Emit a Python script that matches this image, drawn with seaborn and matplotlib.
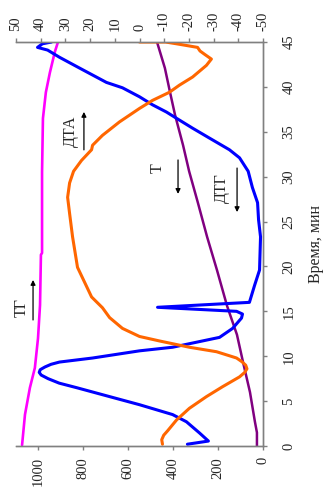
import numpy as np
import pandas as pd
import matplotlib
matplotlib.use('Agg')
import matplotlib.pyplot as plt
import seaborn as sns

# ---- data (time in minutes) ----
# TG (mass) and T (temperature) on the 0-1000 scale
t_tg = [0.1, 3.5, 6.5, 8.7, 12.0, 15.7, 21.3, 21.5, 30.5, 36.5, 39.4, 41.6, 43.9, 45.0]
tg = [1073, 1060, 1038, 1016, 1002, 993, 989, 984, 984, 980, 967, 949, 927, 913]

t_temp = [0.0, 1.5, 2.7, 6.0, 9.35, 12.4, 15.6, 19.6, 23.3, 27.1, 30.6, 33.5, 36.9, 39.4, 42.1, 45.0]
temp = [27, 27, 36, 58, 89, 116, 160, 205, 249, 290, 329, 356, 392, 414, 437, 472]

# DTG and DTA on the -50..50 scale
t_dtg = [0.2, 0.55, 1.45, 2.7, 3.5, 4.6, 5.5, 6.5, 7.0, 7.5, 7.9, 8.2, 8.5, 8.8,
         9.1, 9.35, 9.8, 10.6, 11.0, 12.1, 13.1, 14.25, 14.7, 15.0, 15.45, 16.0,
         17.9, 19.6, 23.3, 25.2, 27.1, 28.8, 30.6, 32.1, 33.0, 34.3, 35.4, 36.5,
         37.2, 38.0, 38.9, 39.9, 40.5, 42.1, 43.3, 44.1, 44.4, 44.8, 45.0]
dtg = [-19.4, -27.9, -24.3, -19.0, -13.4, 0.0, 12.1, 25.5, 32.5, 37.0, 39.8, 40.6,
       40.2, 38.3, 35.8, 32.4, 19.0, 0.0, -13.4, -32.4, -37.7, -41.3, -41.7, -39.3,
       -7.3, -44.5, -46.6, -48.6, -49.0, -48.2, -47.8, -45.7, -44.0, -40.5, -36.4,
       -28.3, -21.5, -15.0, -10.9, -5.3, 0.0, 6.9, 13.4, 24.3, 32.4, 37.2, 41.3,
       39.3, 35.6]

t_dta = [0.2, 0.7, 1.2, 1.7, 2.9, 4.2, 5.5, 6.6, 7.7, 8.2, 8.6, 9.0, 9.4, 9.8, 10.5,
         11.0, 11.7, 12.2, 13.1, 14.3, 15.4, 16.6, 19.9, 23.3, 25.9, 27.7, 29.3,
         30.6, 31.8, 33.0, 33.5, 34.6, 36.1, 37.6, 38.5, 39.4, 40.2, 41.1, 42.4,
         43.1, 43.6, 44.0, 44.4, 44.8, 45.0, 45.0]
dta = [-9.3, -9.0, -9.8, -11.4, -15.0, -20.2, -27.1, -33.6, -40.5, -42.6, -43.5,
       -43.0, -41.4, -39.3, -31.2, -20.2, -8.1, 0.0, 6.9, 12.1, 15.0, 19.4, 25.1,
       27.1, 28.3, 29.1, 28.3, 26.7, 23.5, 19.4, 19.0, 15.0, 8.1, 0.0, -5.3, -12.1,
       -16.2, -21.5, -27.1, -29.1, -26.5, -24.5, -23.5, -15.0, -10.5, 0.0]

left_ticks = [0, 200, 400, 600, 800, 1000]
top_ticks = [50, 40, 30, 20, 10, 0, -10, -20, -30, -40, -50]
time_ticks = [0, 5, 10, 15, 20, 25, 30, 35, 40, 45]

# ---- style ----
sns.set_style('white')
plt.rcParams['font.family'] = ['Liberation Serif', 'DejaVu Serif']
spine_col = '#808080'

fig = plt.figure(figsize=(3.23, 4.96), dpi=100)
ax = fig.add_axes([16/323, 50/496, 247/323, 404/496])
ax2 = ax.twiny()

sns.lineplot(x=tg, y=t_tg, sort=False, estimator=None, ax=ax, color='#FF00FF', linewidth=1.9)
sns.lineplot(x=temp, y=t_temp, sort=False, estimator=None, ax=ax, color='#800080', linewidth=1.8)
sns.lineplot(x=dtg, y=t_dtg, sort=False, estimator=None, ax=ax2, color='#0000FF', linewidth=2.2)
sns.lineplot(x=dta, y=t_dta, sort=False, estimator=None, ax=ax2, color='#FF6600', linewidth=2.2)

ax.set_xlim(1100, 0)
ax.set_ylim(0, 45)
ax2.set_xlim(50, -50)

ax.set_xticks(left_ticks)
ax.set_yticks(time_ticks)
ax2.set_xticks(top_ticks)
ax2.set_xticklabels([str(v) for v in top_ticks])

ax.yaxis.tick_right()
ax.yaxis.set_label_position('right')
ax.set_ylabel('Время, мин', fontsize=11.5, labelpad=9)
ax.set_xlabel('')
ax2.set_xlabel('')

for a in (ax, ax2):
    for side, sp in a.spines.items():
        sp.set_color(spine_col)
        sp.set_linewidth(1.0)
    a.spines['left'].set_visible(False)

ax.tick_params(axis='x', bottom=True, top=False, direction='out', length=3, width=1,
               color=spine_col, labelsize=10.5, labelrotation=90, pad=5)
ax.tick_params(axis='y', right=True, left=False, direction='out', length=3, width=1,
               color=spine_col, labelsize=10.5, labelrotation=90, pad=11)
ax2.tick_params(axis='x', top=True, bottom=False, direction='out', length=3, width=1,
                color=spine_col, labelsize=10.5, labelrotation=90, pad=5)
for lab in ax.get_yticklabels():
    lab.set_va('center')

# ---- curve labels with arrows ----
labels = [('ТГ', 0.024, 0.342, 0.069, 0.312, 0.411),
          ('ДТА', 0.223, 0.780, 0.275, 0.733, 0.827),
          ('Т', 0.575, 0.688, 0.656, 0.708, 0.624),
          ('ДТГ', 0.834, 0.639, 0.895, 0.688, 0.579)]
for txt, tx, ty, axx, y0, y1 in labels:
    ax2.text(tx, ty, txt, transform=ax2.transAxes, rotation=90, ha='center',
             va='center', fontsize=11.5)
    ax2.annotate('', xy=(axx, y1), xytext=(axx, y0), xycoords='axes fraction',
                 arrowprops=dict(arrowstyle='-|>', color='black', lw=0.9,
                                 mutation_scale=7, shrinkA=0, shrinkB=0))

fig.savefig('out.png', dpi=100)
